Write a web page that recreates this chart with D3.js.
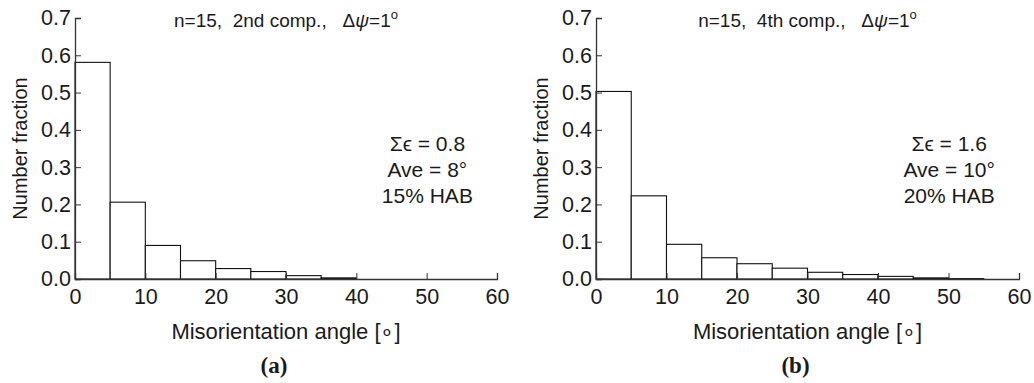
<!DOCTYPE html>
<html>
<head>
<meta charset="utf-8">
<script src="https://cdn.jsdelivr.net/npm/d3@7"></script>
<style>
  body { margin: 0; background: #fff; }
  svg text { font-family: "Liberation Sans", Arial, sans-serif; fill: #1a1a1a; }
</style>
</head>
<body>
<svg id="chart" width="1034" height="383"></svg>
<script>
// bin edges (degrees) and number fractions per panel
var binEdges = [0, 5, 10, 15, 20, 25, 30, 35, 40, 45, 50, 55, 60];
var fractionA = [0.581, 0.206, 0.090, 0.049, 0.028, 0.020, 0.009, 0.003, 0, 0, 0, 0];
var fractionB = [0.503, 0.223, 0.093, 0.057, 0.041, 0.029, 0.018, 0.012, 0.007, 0.003, 0.001, 0];
var xTicks = [0, 10, 20, 30, 40, 50, 60];
var yTicks = [0, 0.1, 0.2, 0.3, 0.4, 0.5, 0.6, 0.7];
var compA = "2nd", compB = "4th";
var notesA = ["\u03A3\u03F5 = 0.8", "Ave = 8\u00B0", "15% HAB"];
var notesB = ["\u03A3\u03F5 = 1.6", "Ave = 10\u00B0", "20% HAB"];

var svg = d3.select("#chart");

function panel(left, right, comp, values, notes, tag) {
  var top = 18, bottom = 279;
  var x = d3.scaleLinear().domain([0, 60]).range([left, right]);
  var y = d3.scaleLinear().domain([0, 0.7]).range([bottom, top]);
  var g = svg.append("g");

  // bars
  var bins = values.map((v, i) => ({x0: binEdges[i], x1: binEdges[i + 1], v: v}));
  g.selectAll("rect.bar")
      .data(bins.filter(d => d.v > 0))
    .enter().append("rect")
      .attr("class", "bar")
      .attr("x", d => x(d.x0))
      .attr("width", d => x(d.x1) - x(d.x0))
      .attr("y", d => y(d.v))
      .attr("height", d => y(0) - y(d.v))
      .attr("fill", "#fff")
      .attr("stroke", "#111")
      .attr("stroke-width", 1.1);

  // axes, ticks point inward like Mathematica frames
  var xa = g.append("g").attr("transform", "translate(0," + bottom + ")");
  xa.call(d3.axisBottom(x).tickValues(d3.range(0, 61, 2)).tickSize(-3).tickFormat(""));
  xa.call(d3.axisBottom(x).tickValues(xTicks).tickSize(-6).tickPadding(12).tickFormat(d3.format("d")));
  var ya = g.append("g").attr("transform", "translate(" + left + ",0)");
  ya.call(d3.axisLeft(y).tickValues(d3.range(0, 0.701, 0.02)).tickSize(-3).tickFormat(""));
  ya.call(d3.axisLeft(y).tickValues(yTicks).tickSize(-6).tickPadding(4).tickFormat(d3.format(".1f")));
  g.selectAll(".domain").attr("stroke", "#333").attr("stroke-width", 1.3);
  g.selectAll(".tick line").attr("stroke", "#333");
  g.selectAll(".tick text").attr("font-size", 21.5).attr("fill", "#1a1a1a")
    .style("font-family", "Liberation Sans, Arial, sans-serif");
  xa.selectAll(".tick text").attr("dy", "0.6em");

  var cx = (left + right) / 2;
  // title
  var t = g.append("text").attr("x", cx).attr("y", 27).attr("text-anchor", "middle")
    .attr("font-size", 19).attr("xml:space", "preserve");
  t.append("tspan").text("n=15,  " + comp + " comp.,   \u0394");
  t.append("tspan").attr("font-style", "italic").text("\u03C8");
  t.append("tspan").text("=1");
  t.append("tspan").attr("font-size", 13).attr("dy", -8).text("o");

  // annotation
  g.selectAll("text.note").data(notes).enter().append("text")
    .attr("class", "note")
    .attr("x", left + (right - left) * 0.835)
    .attr("y", (d, i) => 151 + i * 26)
    .attr("text-anchor", "middle")
    .attr("font-size", 21)
    .text(d => d);

  // axis labels
  g.append("text").attr("x", cx).attr("y", 339).attr("text-anchor", "middle")
    .attr("font-size", 22).text("Misorientation angle [\u2218]");
  g.append("text")
    .attr("transform", "translate(" + (left - 48) + "," + ((top + bottom) / 2) + ") rotate(-90)")
    .attr("text-anchor", "middle").attr("font-size", 20).text("Number fraction");

  g.append("text").attr("x", cx - 12).attr("y", 373).attr("text-anchor", "middle")
    .attr("font-size", 23).attr("font-weight", "bold")
    .style("font-family", "Liberation Serif, Times New Roman, serif")
    .text("(" + tag + ")");
}

panel(75, 497, compA, fractionA, notesA, "a");
panel(596, 1019, compB, fractionB, notesB, "b");
</script>
</body>
</html>
